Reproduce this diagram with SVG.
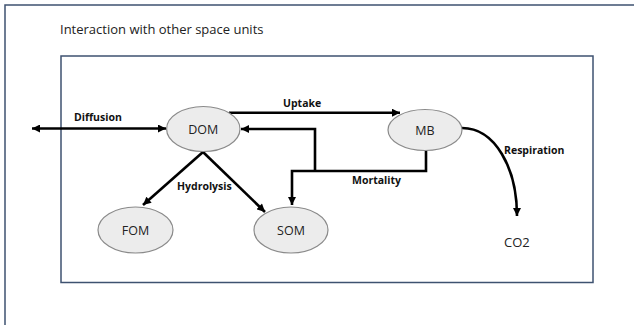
<svg xmlns="http://www.w3.org/2000/svg" width="634" height="325" viewBox="0 0 634 325">
<defs>
<style>
.frame{fill:none;stroke:#3e5270;stroke-width:1.5}
.node ellipse{fill:#ececec;stroke:#8a8a8a;stroke-width:1.2}
.node text{font-family:"Open Sans","Liberation Sans",sans-serif;font-size:12.5px;fill:#222;text-anchor:middle}
.conn{fill:none;stroke:#000;stroke-width:2.6}
.lbl{font-family:"Open Sans","Liberation Sans",sans-serif;font-size:10.5px;font-weight:bold;fill:#111}
.plain{font-family:"Open Sans","Liberation Sans",sans-serif;fill:#222}
</style>
<marker id="ah" viewBox="0 0 10 10" refX="10" refY="5" markerUnits="userSpaceOnUse" markerWidth="9" markerHeight="8" orient="auto-start-reverse">
<path d="M0,0 L10,5 L0,10 z" fill="#000"/>
</marker>
</defs>
<rect width="634" height="325" fill="#fff"/>
<path class="frame" d="M5,340 V5 H640"/>
<rect class="frame" x="61" y="56" width="532" height="226.5"/>
<text class="plain" x="60" y="34" font-size="13">Interaction with other space units</text>
<g id="connectors">
<path id="diffusion" class="conn" d="M32,128.5 H166" marker-start="url(#ah)" marker-end="url(#ah)"/>
<path id="uptake" class="conn" d="M229,112.7 H400" marker-end="url(#ah)"/>
<path id="mortality-som" class="conn" d="M426,150 V171 H292 V205" marker-end="url(#ah)"/>
<path id="mortality-dom" class="conn" d="M315,171 V129 H241" marker-end="url(#ah)"/>
<path id="hydro-fom" class="conn" d="M203,152 L143,205" marker-end="url(#ah)"/>
<path id="hydro-som" class="conn" d="M203,152 L265,212" marker-end="url(#ah)"/>
<path id="respiration" class="conn" d="M462,128 C495,128 517,168 517,216" marker-end="url(#ah)"/>
<text class="lbl" x="74" y="121">Diffusion</text>
<text class="lbl" x="283" y="107">Uptake</text>
<text class="lbl" x="177" y="190">Hydrolysis</text>
<text class="lbl" x="352" y="184">Mortality</text>
<text class="lbl" x="504" y="154">Respiration</text>
</g>
<g id="DOM" class="node"><ellipse cx="203.3" cy="129" rx="36.7" ry="22.5"/><text x="203.3" y="133.5">DOM</text></g>
<g id="MB" class="node"><ellipse cx="425" cy="130" rx="37" ry="20.5"/><text x="425" y="134.5">MB</text></g>
<g id="FOM" class="node"><ellipse cx="135.5" cy="230" rx="37.5" ry="23"/><text x="135.5" y="234.5">FOM</text></g>
<g id="SOM" class="node"><ellipse cx="291" cy="230" rx="37" ry="23"/><text x="291" y="234.5">SOM</text></g>
<g id="CO2"><text class="plain" x="504" y="247" font-size="13">CO2</text></g>
</svg>
